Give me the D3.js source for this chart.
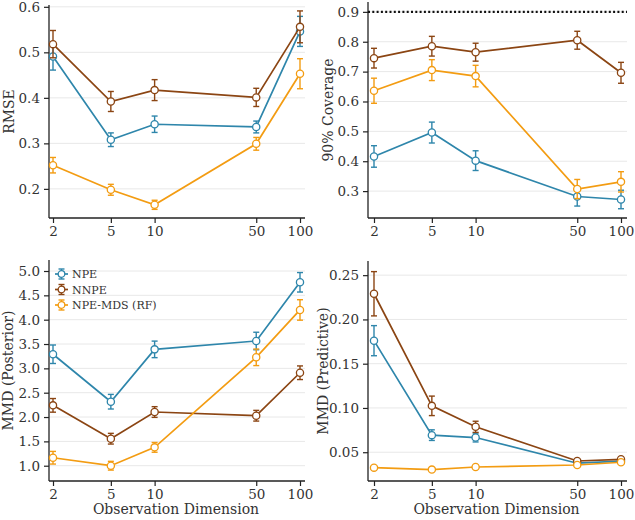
<!DOCTYPE html>
<html>
<head>
<meta charset="utf-8">
<script src="https://cdn.jsdelivr.net/npm/d3@7"></script>
<style>
  body { margin: 0; background: #fff; }
  text { font-family: "DejaVu Serif", serif; fill: #333; }
</style>
</head>
<body>
<script>
// x values (observation dimension) shared by every panel
var dims = [2, 5, 10, 50, 100];
var methods = ["NPE", "NNPE", "NPE-MDS (RF)"];
var colors = ["#2E86AB", "#8B4513", "#F39C12"];

// RMSE
var rmse_npe = [0.491, 0.308, 0.342, 0.336, 0.546];
var rmse_npe_err = [0.030, 0.015, 0.018, 0.013, 0.033];
var rmse_nnpe = [0.518, 0.392, 0.417, 0.401, 0.556];
var rmse_nnpe_err = [0.030, 0.022, 0.023, 0.020, 0.035];
var rmse_mds = [0.252, 0.198, 0.165, 0.299, 0.453];
var rmse_mds_err = [0.017, 0.012, 0.010, 0.014, 0.033];

// 90% coverage
var cov_npe = [0.416, 0.496, 0.402, 0.282, 0.272];
var cov_npe_err = [0.036, 0.035, 0.033, 0.032, 0.031];
var cov_nnpe = [0.745, 0.785, 0.765, 0.805, 0.696];
var cov_nnpe_err = [0.033, 0.033, 0.030, 0.030, 0.035];
var cov_mds = [0.636, 0.705, 0.685, 0.307, 0.331];
var cov_mds_err = [0.042, 0.035, 0.036, 0.032, 0.034];
var cov_target = 0.9;

// MMD posterior
var post_npe = [3.29, 2.315, 3.39, 3.562, 4.768];
var post_npe_err = [0.19, 0.15, 0.17, 0.18, 0.20];
var post_nnpe = [2.24, 1.555, 2.103, 2.027, 2.91];
var post_nnpe_err = [0.14, 0.11, 0.11, 0.11, 0.14];
var post_mds = [1.164, 1.0, 1.377, 3.227, 4.2];
var post_mds_err = [0.13, 0.09, 0.10, 0.17, 0.21];

// MMD predictive
var pred_npe = [0.176, 0.0693, 0.0666, 0.0376, 0.0400];
var pred_npe_err = [0.017, 0.006, 0.005, 0.001, 0.001];
var pred_nnpe = [0.229, 0.1024, 0.0787, 0.0401, 0.0420];
var pred_nnpe_err = [0.025, 0.011, 0.0063, 0.001, 0.001];
var pred_mds = [0.0326, 0.0304, 0.0333, 0.0356, 0.0387];
var pred_mds_err = [0.001, 0.001, 0.001, 0.001, 0.001];

// tick labels
var x_ticks = [2, 5, 10, 50, 100];
var rmse_ticks = [0.2, 0.3, 0.4, 0.5, 0.6];
var cov_ticks = [0.3, 0.4, 0.5, 0.6, 0.7, 0.8, 0.9];
var post_ticks = [1.0, 1.5, 2.0, 2.5, 3.0, 3.5, 4.0, 4.5, 5.0];
var pred_ticks = [0.05, 0.10, 0.15, 0.20, 0.25];

var width = 635, height = 520;
var svg = d3.select("body").append("svg")
  .attr("width", width)
  .attr("height", height);

// panel boxes: l,r = spine extent, x0,x1 = where 2 and 100 fall
var panels = [
  {l: 49, r: 305, x0: 53, x1: 300, t: 5, b: 218, dom: [0.136, 0.604], ticks: rmse_ticks, fmt: ".1f",
   label: "RMSE", lx: 14, series: [[rmse_npe, rmse_npe_err], [rmse_nnpe, rmse_nnpe_err], [rmse_mds, rmse_mds_err]]},
  {l: 368, r: 627, x0: 374, x1: 621, t: 2, b: 218, dom: [0.21, 0.933], ticks: cov_ticks, fmt: ".1f",
   label: "90% Coverage", lx: 333, target: cov_target,
   series: [[cov_npe, cov_npe_err], [cov_nnpe, cov_nnpe_err], [cov_mds, cov_mds_err]]},
  {l: 49, r: 305, x0: 53, x1: 300, t: 260, b: 481, dom: [0.686, 5.226], ticks: post_ticks, fmt: ".1f",
   label: "MMD (Posterior)", lx: 13, legend: true, xlabel: true,
   series: [[post_npe, post_npe_err], [post_nnpe, post_nnpe_err], [post_mds, post_mds_err]]},
  {l: 368, r: 627, x0: 374, x1: 621, t: 261, b: 481, dom: [0.0175, 0.266], ticks: pred_ticks, fmt: ".2f",
   label: "MMD (Predictive)", lx: 328, xlabel: true,
   series: [[pred_npe, pred_npe_err], [pred_nnpe, pred_nnpe_err], [pred_mds, pred_mds_err]]}
];

panels.forEach(draw_panel);

function draw_panel(p) {
  var x = d3.scaleLog().domain([2, 100]).range([p.x0, p.x1]);
  var y = d3.scaleLinear().domain(p.dom).range([p.b, p.t]);
  var g = svg.append("g");

  // grid
  g.selectAll(".grid").data(p.ticks).enter().append("line")
    .attr("x1", p.l).attr("x2", p.r)
    .attr("y1", d => y(d)).attr("y2", d => y(d))
    .attr("stroke", "#e8e8e8").attr("stroke-width", 1);

  // axes
  var xAxis = d3.axisBottom(x).tickValues(x_ticks).tickFormat(d3.format("d")).tickSize(5).tickPadding(3);
  var gx = g.append("g").attr("transform", "translate(0," + p.b + ")").call(xAxis);
  var yAxis = d3.axisLeft(y).tickValues(p.ticks).tickFormat(d3.format(p.fmt)).tickSize(5).tickPadding(4);
  var gy = g.append("g").attr("transform", "translate(" + p.l + ",0)").call(yAxis);
  [gx, gy].forEach(function(a) {
    a.select(".domain").remove();
    a.selectAll(".tick line").attr("stroke", "#222").attr("stroke-width", 1.2);
    a.selectAll(".tick text").style("font-family", "DejaVu Serif").style("font-size", "13.5px").attr("fill", "#333");
  });
  g.append("line").attr("x1", p.l).attr("x2", p.l).attr("y1", p.t).attr("y2", p.b)
    .attr("stroke", "#222").attr("stroke-width", 1.3);
  g.append("line").attr("x1", p.l).attr("x2", p.r).attr("y1", p.b).attr("y2", p.b)
    .attr("stroke", "#222").attr("stroke-width", 1.3);

  // y label
  g.append("text")
    .attr("transform", "translate(" + p.lx + "," + ((p.t + p.b) / 2) + ") rotate(-90)")
    .attr("text-anchor", "middle")
    .style("font-size", "14px")
    .text(p.label);

  if (p.xlabel) {
    g.append("text")
      .attr("x", (p.l + p.r) / 2 - 1).attr("y", 514)
      .attr("text-anchor", "middle")
      .style("font-size", "14px")
      .text("Observation Dimension");
  }

  // target line for coverage
  if (p.target) {
    g.append("line").attr("x1", p.l).attr("x2", p.r)
      .attr("y1", y(p.target)).attr("y2", y(p.target))
      .attr("stroke", "#111").attr("stroke-width", 2.2)
      .attr("stroke-dasharray", "2,2.3");
  }

  // series
  var line = d3.line().x(d => x(d.x)).y(d => y(d.v));
  p.series.forEach(function(s, i) {
    var pts = dims.map((d, j) => ({x: d, v: s[0][j], e: s[1][j]}));
    var col = colors[i];
    var sg = g.append("g");
    sg.append("path").datum(pts).attr("d", line)
      .attr("fill", "none").attr("stroke", col).attr("stroke-width", 1.7);
    var eb = sg.selectAll(".eb").data(pts).enter().append("g");
    eb.append("line").attr("x1", d => x(d.x)).attr("x2", d => x(d.x))
      .attr("y1", d => y(d.v - d.e)).attr("y2", d => y(d.v + d.e))
      .attr("stroke", col).attr("stroke-width", 1.4);
    eb.append("line").attr("x1", d => x(d.x) - 3).attr("x2", d => x(d.x) + 3)
      .attr("y1", d => y(d.v - d.e)).attr("y2", d => y(d.v - d.e))
      .attr("stroke", col).attr("stroke-width", 1.4);
    eb.append("line").attr("x1", d => x(d.x) - 3).attr("x2", d => x(d.x) + 3)
      .attr("y1", d => y(d.v + d.e)).attr("y2", d => y(d.v + d.e))
      .attr("stroke", col).attr("stroke-width", 1.4);
    sg.selectAll("circle").data(pts).enter().append("circle")
      .attr("cx", d => x(d.x)).attr("cy", d => y(d.v)).attr("r", 3.6)
      .attr("fill", "#fff").attr("stroke", col).attr("stroke-width", 1.3);
  });

  if (p.legend) draw_legend(p);
}

function draw_legend(p) {
  var lg = svg.append("g").attr("transform", "translate(" + (p.l + 6) + "," + (p.t + 14) + ")");
  methods.forEach(function(m, i) {
    var row = lg.append("g").attr("transform", "translate(0," + (i * 15.5) + ")");
    row.append("line").attr("x1", 0).attr("x2", 13).attr("y1", 0).attr("y2", 0)
      .attr("stroke", colors[i]).attr("stroke-width", 1.7);
    row.append("line").attr("x1", 6.5).attr("x2", 6.5).attr("y1", -5).attr("y2", 5)
      .attr("stroke", colors[i]).attr("stroke-width", 1.4);
    row.append("line").attr("x1", 3.5).attr("x2", 9.5).attr("y1", -5).attr("y2", -5)
      .attr("stroke", colors[i]).attr("stroke-width", 1.4);
    row.append("line").attr("x1", 3.5).attr("x2", 9.5).attr("y1", 5).attr("y2", 5)
      .attr("stroke", colors[i]).attr("stroke-width", 1.4);
    row.append("circle").attr("cx", 6.5).attr("cy", 0).attr("r", 3.3)
      .attr("fill", "#fff").attr("stroke", colors[i]).attr("stroke-width", 1.3);
    row.append("text").attr("x", 17).attr("y", 4)
      .style("font-size", "11px")
      .text(m);
  });
}
</script>
</body>
</html>
